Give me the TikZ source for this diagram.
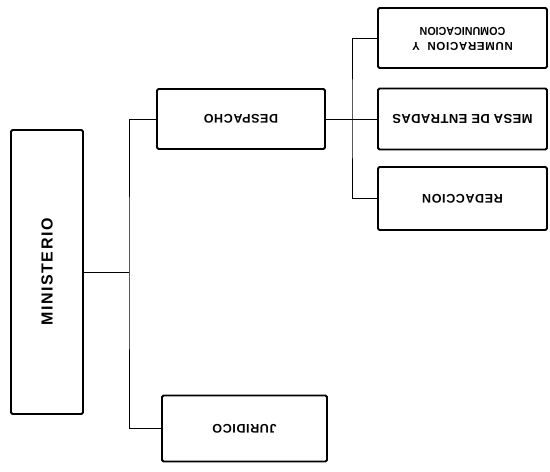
\documentclass[tikz,border=0pt]{standalone}
\usepackage{fontspec}
\setsansfont{Liberation Sans}
\newfontfamily\boxfont[LetterSpace=5]{Liberation Sans}
\newcommand{\turned}[1]{\rotatebox{180}{#1}}
\tikzset{
	unit/.style={draw, line width=1.8pt, rounded corners=1.5pt, inner sep=0pt, font=\boxfont\bfseries\fontsize{12.5}{15}\selectfont},
	link/.style={line width=0.9pt}
}

\begin{document}
\begin{tikzpicture}[x=1pt, y=-1pt]
	\useasboundingbox (0,0) rectangle (550,472);
	%first level
	\node[unit, minimum width=72pt, minimum height=284pt, font=\boxfont\bfseries\fontsize{16}{18}\selectfont\addfontfeature{LetterSpace=10}] (min) at (47,272) {\rotatebox{90}{MINISTERIO}};
	
	%second level
	\node[unit, minimum width=168pt, minimum height=60pt] (desp) at (241,119) {\turned{DESPACHO}};
	\node[unit, minimum width=165pt, minimum height=66pt] (jur) at (244.5,428.5) {\turned{JURIDICO}};
	
	%third level
	\node[unit, minimum width=169pt, minimum height=60pt, font=\boxfont\bfseries\fontsize{11.5}{13}\selectfont] (num) at (462.5,38) {\turned{\begin{tabular}{@{}c@{}}{\addfontfeature{LetterSpace=6}NUMERACION\ \ Y}\\[2pt]\scalebox{0.93}[1]{\addfontfeature{LetterSpace=0}COMUNICACION}\end{tabular}}};
	\node[unit, minimum width=169pt, minimum height=61pt, font=\boxfont\bfseries\fontsize{13}{15}\selectfont\addfontfeature{LetterSpace=3}] (mesa) at (462.5,119) {\turned{MESA DE ENTRADAS}};
	\node[unit, minimum width=169pt, minimum height=63pt] (red) at (462.5,198.5) {\turned{REDACCION}};
	
	%connectors
	\coordinate (busA) at (129,272);
	\coordinate (busB) at (352,119);
	\draw[link] (min) -- (busA);
	\draw[link] (desp) -| (busA) |- (jur);
	\draw[link] (desp) -- (busB);
	\draw[link] (num) -| (busB) |- (red);
	\draw[link] (mesa) -- (busB);
\end{tikzpicture}
\end{document}
